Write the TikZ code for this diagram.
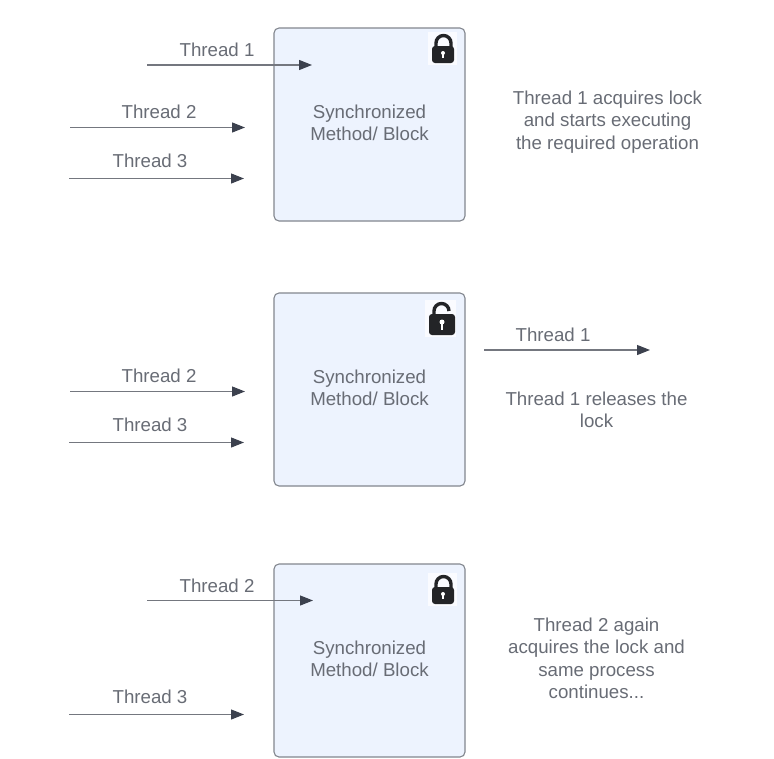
\documentclass[tikz,border=0pt]{standalone}
\usepackage{fontspec}
\setmainfont{Liberation Sans}
\usetikzlibrary{arrows.meta}
\definecolor{boxfill}{HTML}{EDF3FE}
\definecolor{boxline}{HTML}{82868E}
\definecolor{txtgray}{HTML}{686C75}
\definecolor{arrowgray}{HTML}{74777F}
\definecolor{tipdark}{HTML}{3C414E}
\definecolor{lockdark}{HTML}{232427}
\tikzset{
    syncbox/.style={draw=boxline, fill=boxfill, line width=1.1pt, rounded corners=5pt,
        minimum width=191pt, minimum height=193pt, inner sep=0pt},
    txt/.style={text=txtgray, font=\fontsize{18.7}{22.4}\selectfont, align=center, inner sep=0pt},
    threadarrow/.style={draw=arrowgray, line width=1.1pt,
        -{Triangle[length=13pt,width=10pt,color=tipdark]}},
    lockbody/.style={fill=lockdark, rounded corners=3pt},
    shackle/.style={draw=lockdark, line width=3.4pt},
    pics/lockshut/.style={code={
        \fill[white!70!boxfill] (-15,-17) rectangle (14,16);
        \draw[shackle] (-7,0) -- (-7,-6) arc[start angle=180, end angle=0, x radius=7.5pt, y radius=7.5pt] -- (8,0);
        \fill[lockbody] (-11,-3) rectangle (11,14);
        \fill[white] (0,4) circle[radius=2pt];
        \fill[white] (-1,4) rectangle (1,9);
    }},
    pics/lockopen/.style={code={
        \fill[white!70!boxfill] (-16,-19) rectangle (15,18);
        \draw[shackle] (-7,0) -- (-7,-8) arc[start angle=180, end angle=0, x radius=7.5pt, y radius=7.5pt];
        \fill[lockbody] (-12,-5) rectangle (14,16);
        \fill[white] (1,3) circle[radius=2.5pt];
        \fill[white] (-0.2,3) rectangle (2.2,11);
    }}
}
\begin{document}
\begin{tikzpicture}[x=1pt, y=-1pt]
    \useasboundingbox (0,0) rectangle (774,758);

    % Blocks
    \foreach \name/\y in {blocka/124.5, blockb/389.5, blockc/660.5} {
        \node[syncbox] (\name) at (369.5, \y) {};
        \node[txt] (\name t) at (369.5, \y-1.5) {Synchronized\\Method/ Block};
    }

    % Locks
    \pic at (443,49) {lockshut};
    \pic at (441,319) {lockopen};
    \pic at (443,590) {lockshut};

    % Threads
    \foreach \name/\xa/\xb/\y/\lx/\ly/\val in {
        ta/147/312/65/217/50/Thread 1,
        tb/70/245/127.5/159/112/Thread 2,
        tc/69/244/178.5/150/161/Thread 3,
        td/484/650/350/553/335/Thread 1,
        te/70/245/391.5/159/376/Thread 2,
        tf/69/244/442.5/150/425/Thread 3,
        tg/147/313/600.5/217/586/Thread 2,
        th/69/244/714.5/150/697/Thread 3%
    } {
        \coordinate (\name s) at (\xa, \y);
        \coordinate (\name e) at (\xb, \y);
        \draw[threadarrow] (\name s) -- (\name e);
        \node[txt] (\name l) at (\lx, \ly) {\val};
    }

    % Notes
    \node[txt] (notea) at (607.5, 122) {Thread 1 acquires lock\\and starts executing\\the required operation};
    \node[txt] (noteb) at (596.5, 410) {Thread 1 releases the\\lock};
    \node[txt] (notec) at (596.5, 658.5) {Thread 2 again\\acquires the lock and\\same process\\continues...};
\end{tikzpicture}
\end{document}
